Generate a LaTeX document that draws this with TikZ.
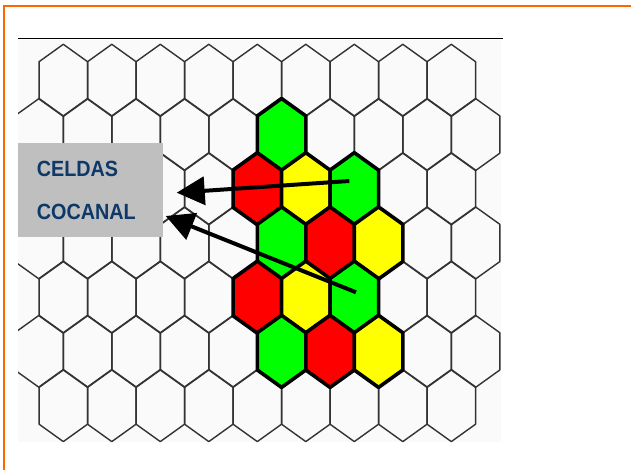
\documentclass[tikz,border=0pt]{standalone}
\usepackage{fontspec}
\setmainfont{Liberation Sans}
\usetikzlibrary{arrows.meta}

\definecolor{frameorange}{RGB}{255,102,0}
\definecolor{boxgray}{RGB}{191,191,191}
\definecolor{labelblue}{RGB}{14,56,104}
\definecolor{cellgreen}{RGB}{0,255,0}
\definecolor{cellred}{RGB}{255,0,0}
\definecolor{cellyellow}{RGB}{255,255,0}

\newcommand\narrowlabel[1]{\scalebox{0.9}[1]{#1}}

\tikzset{
  hexcell/.pic={
    \path[pic actions] (0,-36.05) -- (24.25,-18.65) -- (24.25,18.65) -- (0,36.05)
      -- (-24.25,18.65) -- (-24.25,-18.65) -- cycle;
  },
  gridcell/.style={draw=black!80, line width=1.4pt, line join=round},
  cochannel/.style={draw=black, line width=3.6pt, line join=round, fill=#1},
  labeltext/.style={text=labelblue, font=\fontsize{22}{26}\selectfont\bfseries, inner sep=0pt, anchor=base west},
  pointer/.style={line width=4pt, -{Triangle[length=28pt,width=28pt]}}
}

\begin{document}
\begin{tikzpicture}[x=1pt,y=-1pt]
\useasboundingbox (0,0) rectangle (631,470);
\fill[white] (0,0) rectangle (631,470);

% page frame and rule
\draw[frameorange, line width=2pt] (3,6) -- (631,6);
\draw[frameorange, line width=1.8pt] (4,5) -- (4,470);
\draw[line width=1.3pt] (18,38.7) -- (502.5,38.7);

% hexagonal cell grid
\fill[black!2] (18,40) rectangle (501,442);
\begin{scope}
  \clip (18,40) rectangle (502,442);
  \foreach \r in {0,2,4,6}
    \foreach \j in {0,...,8}
      \pic[gridcell] at ({63.3+48.5*\j},{80.35+54.2*\r}) {hexcell};
  \foreach \r in {1,3,5}
    \foreach \j in {0,...,9}
      \pic[gridcell] at ({39.05+48.5*\j},{80.35+54.2*\r}) {hexcell};
\end{scope}

% co-channel cluster
\foreach \cx/\cy/\col in {
  281.55/134.55/cellgreen,
  257.3/188.75/cellred, 305.8/188.75/cellyellow, 354.3/188.75/cellgreen,
  281.55/242.95/cellgreen, 330.05/242.95/cellred, 378.55/242.95/cellyellow,
  257.3/297.15/cellred, 305.8/297.15/cellyellow, 354.3/297.15/cellgreen,
  281.55/351.35/cellgreen, 330.05/351.35/cellred, 378.55/351.35/cellyellow}
  \pic[cochannel=\col] at (\cx,\cy) {hexcell};

% label box
\node[fill=boxgray, minimum width=144.7pt, minimum height=93.4pt, inner sep=0pt,
      anchor=north west] (box) at (18,143.3) {};
\node[labeltext] (line1) at (36.6,176.7) {\narrowlabel{CELDAS}};
\node[labeltext] (line2) at (36.6,219) {\narrowlabel{COCANAL}};

% pointers
\coordinate (a1s) at (349.3,181);
\coordinate (a1e) at (176.7,192.7);
\coordinate (a2s) at (356,292.3);
\coordinate (a2e) at (165.7,216);
\draw[pointer] (a1s) -- (a1e);
\draw[pointer] (a2s) -- (a2e);
\end{tikzpicture}
\end{document}
